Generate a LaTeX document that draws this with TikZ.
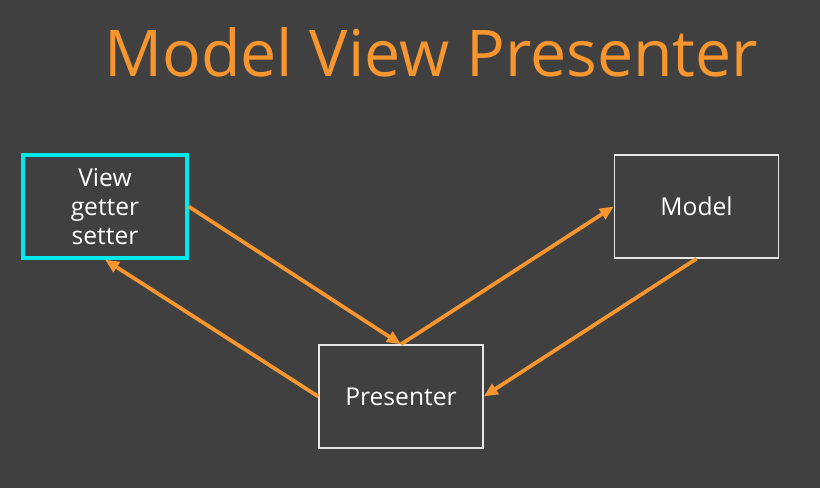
\documentclass[tikz,border=0pt]{standalone}
\usepackage{fontspec}
\setmainfont{Open Sans}
\usetikzlibrary{arrows.meta}
\definecolor{fundo}{HTML}{404040}
\definecolor{laranja}{HTML}{F7952E}
\definecolor{ciano}{HTML}{00E8F0}
\definecolor{borda}{HTML}{E6E6E6}
\tikzset{
  caixa/.style={draw=borda, line width=1.2pt, minimum width=4.92cm, minimum height=3.09cm,
    text=white, font=\fontsize{21}{25}\selectfont, align=center, inner sep=0pt},
  seta/.style={draw=laranja, line width=3.2pt, -{Triangle[length=12pt,width=10pt]}}
}
\begin{document}
\begin{tikzpicture}[x=0.03cm, y=-0.03cm]
    \useasboundingbox (0,0) rectangle (820,488);
    \fill[fundo] (0,0) rectangle (820,488); % Fundo
    \node[anchor=base, text=laranja, font=\fontsize{55}{60}\selectfont] (titulo) at (431,77) {Model View Presenter}; % Titulo
    \node[caixa, draw=ciano, line width=2.8pt] (view) at (105,206.5) {View\\getter\\setter}; % View
    \node[caixa] (model) at (696.5,206.5) {Model}; % Model
    \node[caixa] (presenter) at (401,396.5) {Presenter}; % Presenter
    \draw[seta] (view.east) -- (presenter.north); % View para Presenter
    \draw[seta] (presenter.north) -- (model.west); % Presenter para Model
    \draw[seta] (model.south) -- (presenter.east); % Model para Presenter
    \draw[seta] (presenter.west) -- (view.south); % Presenter para View
\end{tikzpicture}
\end{document}
